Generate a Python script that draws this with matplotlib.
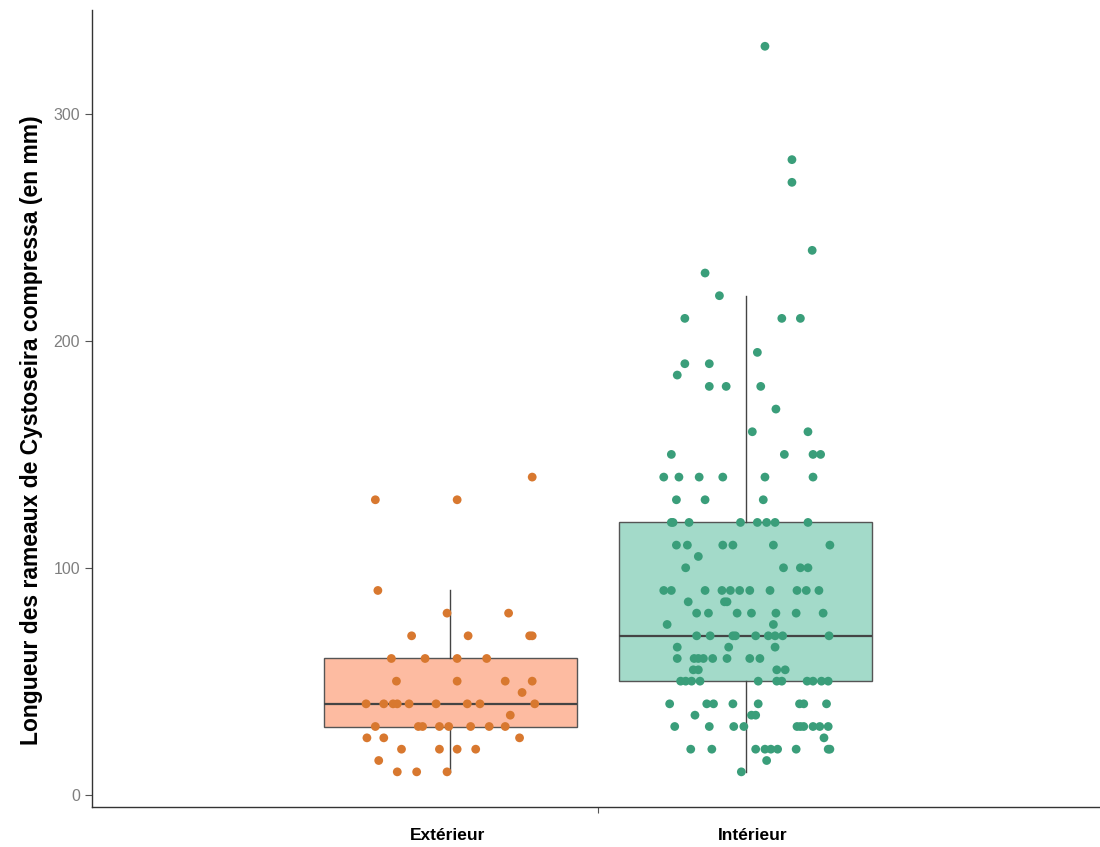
import matplotlib
matplotlib.use("Agg")
import matplotlib.pyplot as plt

# groups
groups = ["Extérieur", "Intérieur"]
centres = [0.825, 1.175]
label_x = [0.822, 1.183]

# Extérieur: branch length (mm) and horizontal jitter of each point
ext_values = [130, 130, 140, 90, 80, 80, 70, 70, 70, 70,
              60, 60, 60, 60, 50, 50, 50, 50, 45,
              40, 40, 40, 40, 40, 40, 40, 40, 40, 35,
              30, 30, 30, 30, 30, 30, 30, 30, 25, 25, 25,
              20, 20, 20, 20, 15, 10, 10, 10]
ext_jitter = [-0.089, 0.008, 0.097, -0.086, -0.004, 0.069, -0.046, 0.021, 0.094, 0.097,
              -0.070, -0.030, 0.008, 0.043, -0.064, 0.008, 0.065, 0.097, 0.085,
              -0.100, -0.079, -0.068, -0.063, -0.049, -0.017, 0.020, 0.035, 0.100, 0.071,
              -0.089, -0.038, -0.033, -0.013, -0.002, 0.024, 0.046, 0.065, -0.099, -0.079, 0.082,
              -0.058, -0.013, 0.008, 0.030, -0.085, -0.063, -0.040, -0.004]

# Intérieur
int_values = [330, 280, 270, 240, 230, 220, 210, 210, 210, 195,
              190, 190, 185, 180, 180, 180, 170, 160, 160,
              150, 150, 150, 150, 140, 140, 140, 140, 140, 140,
              130, 130, 130, 120, 120, 120, 120, 120, 120, 120, 120,
              110, 110, 110, 110, 110, 110, 105, 100, 100, 100, 100,
              90, 90, 90, 90, 90, 90, 90, 90, 90, 90, 90,
              85, 85, 85, 80, 80, 80, 80, 80, 80, 80, 75, 75,
              70, 70, 70, 70, 70, 70, 70, 70, 70, 65, 65, 65,
              60, 60, 60, 60, 60, 60, 60, 60, 55, 55, 55, 55,
              50, 50, 50, 50, 50, 50, 50, 50, 50, 50, 50,
              40, 40, 40, 40, 40, 40, 40, 40, 35, 35, 35,
              30, 30, 30, 30, 30, 30, 30, 30, 30, 30, 25,
              20, 20, 20, 20, 20, 20, 20, 20, 20, 15, 10]
int_jitter = [0.023, 0.055, 0.055, 0.079, -0.048, -0.031, -0.072, 0.043, 0.065, 0.014,
              -0.072, -0.043, -0.081, -0.043, -0.023, 0.018, 0.036, 0.008, 0.074,
              -0.088, 0.046, 0.080, 0.089, -0.097, -0.079, -0.055, -0.027, 0.023, 0.080,
              -0.082, -0.048, 0.021, -0.088, -0.086, -0.067, -0.006, 0.014, 0.025, 0.035, 0.074,
              -0.082, -0.069, -0.027, -0.015, 0.033, 0.100, -0.056, -0.071, 0.045, 0.065, 0.074,
              -0.097, -0.088, -0.048, -0.028, -0.018, -0.007, 0.005, 0.029, 0.061, 0.072, 0.087,
              -0.068, -0.025, -0.022, -0.058, -0.044, -0.010, 0.007, 0.036, 0.060, 0.092, -0.093, 0.033,
              -0.058, -0.042, -0.015, -0.012, 0.012, 0.027, 0.035, 0.044, 0.099, -0.081, -0.020, 0.035,
              -0.081, -0.061, -0.056, -0.050, -0.039, -0.022, 0.005, 0.017, -0.062, -0.056, 0.037, 0.047,
              -0.077, -0.071, -0.064, -0.054, 0.015, 0.037, 0.043, 0.073, 0.080, 0.090, 0.098,
              -0.090, -0.046, -0.038, -0.015, 0.015, 0.064, 0.069, 0.096, -0.060, 0.007, 0.012,
              -0.084, -0.043, -0.014, -0.002, 0.061, 0.065, 0.069, 0.080, 0.088, 0.098, 0.093,
              -0.065, -0.040, 0.012, 0.023, 0.030, 0.038, 0.060, 0.098, 0.100, 0.025, -0.005]

# box statistics as drawn
box_q1 = [30, 50]
box_med = [40, 70]
box_q3 = [60, 120]
whisk_lo = [10, 10]
whisk_hi = [90, 220]

box_fill = ["#FDBBA1", "#A3DAC9"]
point_col = ["#D8782F", "#3A9E7A"]

fig = plt.figure(figsize=(11, 8.47), dpi=100)
ax = fig.add_axes([92 / 1100, 1 - 807 / 847, 1 - 92 / 1100, (807 - 10) / 847])

stats = []
for i, g in enumerate(groups):
    stats.append(dict(label=g, q1=box_q1[i], med=box_med[i], q3=box_q3[i],
                      whislo=whisk_lo[i], whishi=whisk_hi[i], fliers=[]))

bp = ax.bxp(stats, positions=centres, widths=0.3, patch_artist=True,
            showfliers=False, showcaps=False, manage_ticks=False,
            boxprops=dict(edgecolor="#555555", linewidth=1.0),
            medianprops=dict(color="#444444", linewidth=1.6),
            whiskerprops=dict(color="#444444", linewidth=1.0))
for patch, c in zip(bp["boxes"], box_fill):
    patch.set_facecolor(c)

for i, (vals, jit) in enumerate([(ext_values, ext_jitter), (int_values, int_jitter)]):
    xs = [centres[i] + j for j in jit]
    ax.scatter(xs, vals, s=40, color=point_col[i], edgecolors="none", zorder=3)

ax.set_xlim(0.4, 0.4 + (1100 - 92) / 843.3)
ax.set_ylim(-5.5, 346)
ax.set_xticks([1.0])
ax.set_xticklabels([""])
ax.set_yticks([0, 100, 200, 300])
ax.tick_params(axis="y", colors="#555555", labelcolor="#7F7F7F", labelsize=11.5, length=5)
ax.tick_params(axis="x", colors="#555555", length=4)
for lab in ax.get_yticklabels():
    lab.set_family("Liberation Sans")

for side in ["top", "right"]:
    ax.spines[side].set_visible(False)
for side in ["left", "bottom"]:
    ax.spines[side].set_color("#333333")
    ax.spines[side].set_linewidth(1.0)

for i, g in enumerate(groups):
    ax.text(label_x[i], -0.036, g, transform=ax.get_xaxis_transform(),
            ha="center", va="center", fontsize=12.5, fontweight="bold",
            family="Liberation Sans")

fig.text(32 / 1100, 1 - 430 / 847, "Longueur des rameaux de Cystoseira compressa (en mm)",
         rotation=90, ha="center", va="center", fontsize=16.5, fontweight="bold",
         family="Liberation Sans")

fig.savefig("out.png", dpi=100)
